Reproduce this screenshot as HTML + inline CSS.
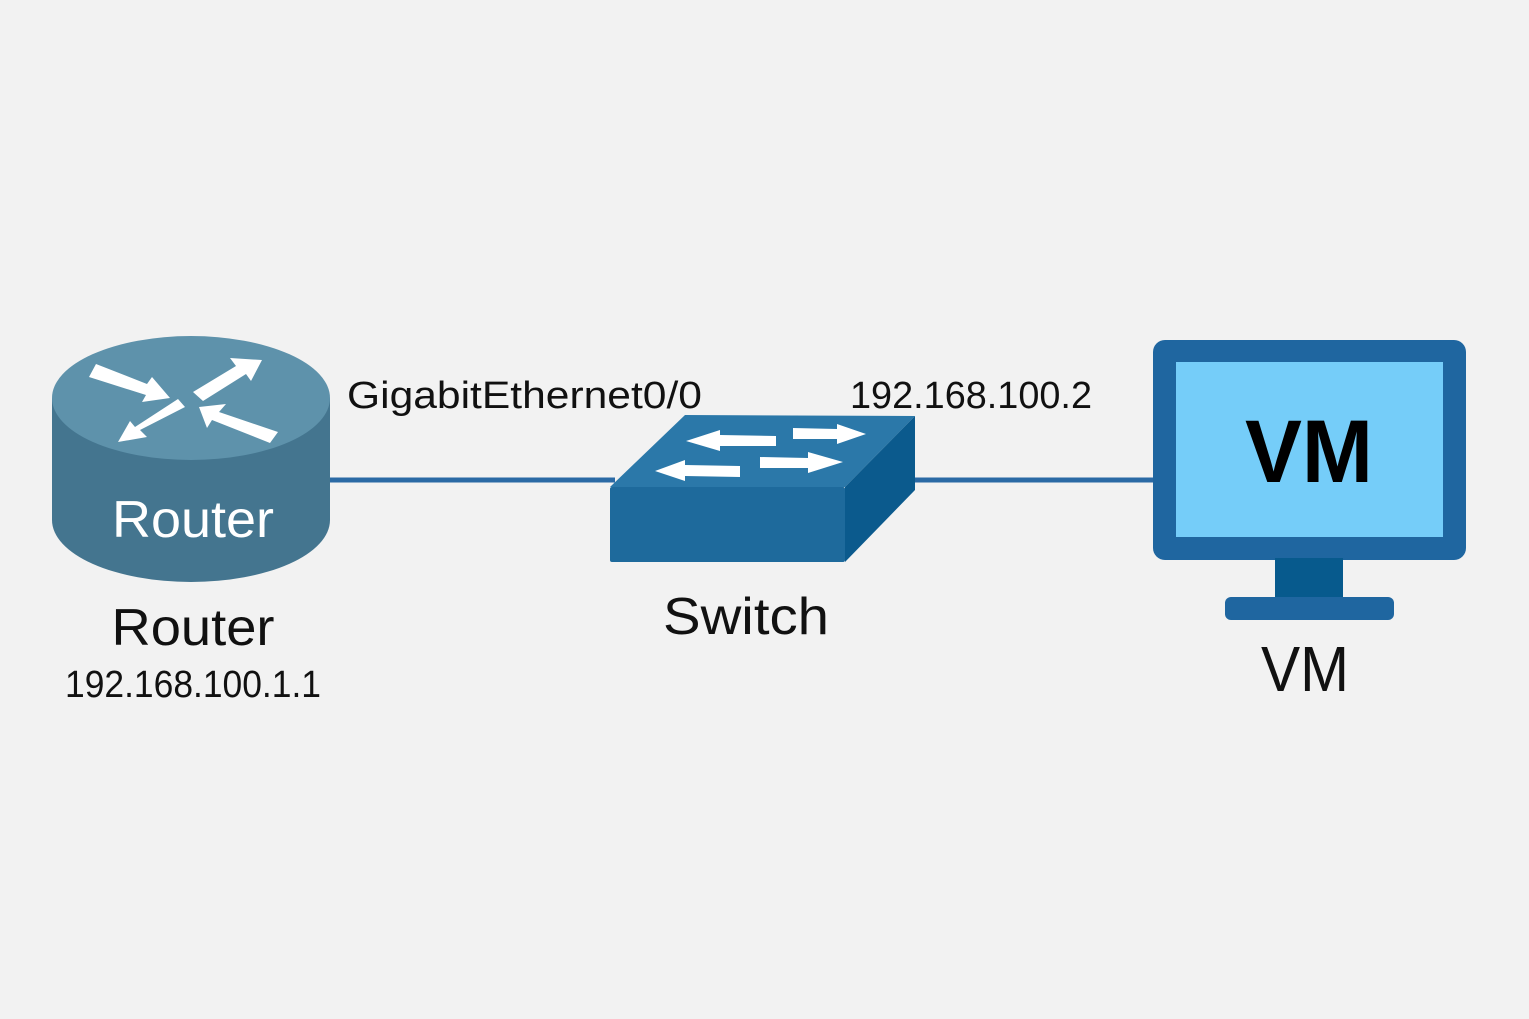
<!DOCTYPE html>
<html><head><meta charset="utf-8"><style>
html,body{margin:0;padding:0;background:#f2f2f2;}
svg{display:block;}
text{font-family:"Liberation Sans",sans-serif;}
</style></head><body>
<svg width="1529" height="1019" viewBox="0 0 1529 1019" xmlns="http://www.w3.org/2000/svg">
<rect width="1529" height="1019" fill="#f2f2f2"/>
<line x1="325" y1="480" x2="615" y2="480" stroke="#2b6aa5" stroke-width="5"/>
<line x1="910" y1="480" x2="1156" y2="480" stroke="#2b6aa5" stroke-width="5"/>
<!-- router -->
<path d="M52,398 L52,520 A139,62 0 0 0 330,520 L330,398 Z" fill="#44758f"/>
<ellipse cx="191" cy="398" rx="139" ry="62" fill="#5e92ab"/>
<g fill="#ffffff">
<polygon points="89,377 96,364 147,384 152,377 170,398 142,402 146,395"/>
<polygon points="193,392 236,366 230,358 262,360 251,381 246,374 203,401"/>
<polygon points="185,407 140,430 147,437 118,442 130,421 135,427 178,399"/>
<polygon points="199,407 226,404 219,412 278,432 270,443 212,420 207,428"/>
</g>
<text x="193" y="537" font-size="52" fill="#ffffff" text-anchor="middle" textLength="162" lengthAdjust="spacingAndGlyphs">Router</text>
<!-- switch -->
<polygon points="610,487 685,415 915,416 845,487" fill="#2b78a9"/>
<polygon points="845,487 915,416 915,490 845,562" fill="#0b5a8d"/>
<rect x="610" y="487" width="235" height="75" rx="2" fill="#1e6a9c"/>
<g fill="#ffffff">
<polygon points="776,436 720,435 720,430 686,441 720,451 720,446 776,446"/>
<polygon points="740,466 685,465 685,460 655,471 685,481 685,476 740,477"/>
<polygon points="793,428 837,429 837,424 866,434 837,444 837,439 793,439"/>
<polygon points="760,457 808,458 808,452 843,462 808,473 808,468 760,468"/>
</g>
<!-- monitor -->
<rect x="1153" y="340" width="313" height="220" rx="12" fill="#1f66a0"/>
<rect x="1176" y="362" width="267" height="175" fill="#75cdf9"/>
<rect x="1275" y="558" width="68" height="40" fill="#075a8d"/>
<rect x="1225" y="597" width="169" height="23" rx="6" fill="#1f66a0"/>
<text x="1309" y="482" font-size="89" font-weight="bold" fill="#000" text-anchor="middle" textLength="128" lengthAdjust="spacingAndGlyphs">VM</text>
<!-- labels -->
<text x="347" y="408" font-size="38" fill="#111" textLength="355" lengthAdjust="spacingAndGlyphs">GigabitEthernet0/0</text>
<text x="850" y="408" font-size="38" fill="#111" textLength="242" lengthAdjust="spacingAndGlyphs">192.168.100.2</text>
<text x="193" y="645" font-size="52" fill="#111" text-anchor="middle" textLength="163" lengthAdjust="spacingAndGlyphs">Router</text>
<text x="193" y="697" font-size="38" fill="#111" text-anchor="middle" textLength="256" lengthAdjust="spacingAndGlyphs">192.168.100.1.1</text>
<text x="746" y="634" font-size="52" fill="#111" text-anchor="middle" textLength="166" lengthAdjust="spacingAndGlyphs">Switch</text>
<text x="1305" y="691" font-size="64" fill="#111" text-anchor="middle" textLength="88" lengthAdjust="spacingAndGlyphs">VM</text>
</svg>
</body></html>
